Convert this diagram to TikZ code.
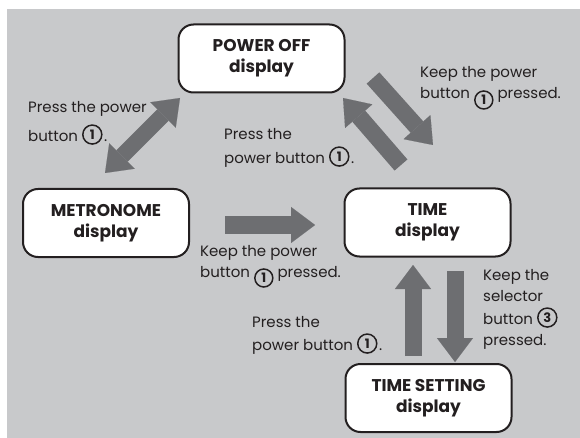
\documentclass[tikz,border=0pt]{standalone}
\usepackage{fontspec}
\setmainfont{Poppins}
\usetikzlibrary{arrows.meta}
\definecolor{bggray}{HTML}{C8C9CB}
\definecolor{argray}{HTML}{6D6E71}
\definecolor{txt}{HTML}{231F20}
\newcommand{\cnumhi}[1]{\tikz[baseline={([yshift=-2.5pt]c.base)}]\node[circle,draw=txt,line width=1.5pt,inner sep=0pt,minimum size=19pt,font=\fontsize{13}{13}\selectfont\bfseries,anchor=center](c){#1};}
\newcommand{\cnumlo}[1]{\tikz[baseline={([yshift=1pt]c.center)}]\node[circle,draw=txt,line width=1.5pt,inner sep=0pt,minimum size=18pt,font=\fontsize{13}{13}\selectfont\bfseries,anchor=center](c){#1};}
\begin{document}
\begin{tikzpicture}[x=1pt,y=-1pt,
  box/.style={draw=txt,line width=2pt,fill=white,rounded corners=15pt,minimum width=166pt,minimum height=68pt,align=center,font=\fontsize{17}{21}\selectfont\bfseries,text=txt,inner sep=0pt},
  lbl/.style={anchor=base west,inner sep=0pt,font=\fontsize{15}{21}\selectfont,text=txt},
  blk/.style={draw=argray,line width=17pt,-{Triangle[width=36pt,length=24pt,line width=0.1pt]}},
  dblk/.style={draw=argray,line width=16pt,{Triangle[width=36pt,length=24pt,line width=0.1pt]}-{Triangle[width=36pt,length=24pt,line width=0.1pt]}}]
\useasboundingbox (0,0) rectangle (580,438);
\fill[bggray] (7,9) rectangle (580,438);
\node[box] (poweroff) at (261.5,58.5) {POWER OFF\\display};
\node[box] (metro) at (106,223) {METRONOME\\display};
\node[box] (time) at (427.5,222.5) {TIME\\display};
\node[box] (tset) at (428.5,398) {TIME SETTING\\display};
\coordinate (d1) at (105,173); \coordinate (d2) at (180,98);
\coordinate (r1) at (225,225); \coordinate (r2) at (315,225);
\coordinate (a1) at (373,78);  \coordinate (a2) at (433,145);
\coordinate (b1) at (401,165); \coordinate (b2) at (343,98);
\coordinate (u1) at (413,356); \coordinate (u2) at (413,265);
\coordinate (v1) at (455,271); \coordinate (v2) at (455,362);
\draw[dblk] (d1) -- (d2);
\draw[blk] (r1) -- (r2);
\draw[blk] (a1) -- (a2);
\draw[blk] (b1) -- (b2);
\draw[blk] (u1) -- (u2);
\draw[blk] (v1) -- (v2);
\node[lbl] (l1) at (28,113) {\begin{tabular}[t]{@{}l@{}}Press the power\\[5pt] button \cnumhi{1}\kern1.5pt.\end{tabular}};
\node[lbl] (l2) at (224,140) {\begin{tabular}[t]{@{}l@{}}Press the\\ power button \cnumhi{1}\kern1.5pt.\end{tabular}};
\node[lbl] (l3) at (420,78) {\begin{tabular}[t]{@{}l@{}}Keep the power\\ button \cnumlo{1} pressed.\end{tabular}};
\node[lbl] (l4) at (200,256) {\begin{tabular}[t]{@{}l@{}}Keep the power\\ button \cnumlo{1} pressed.\end{tabular}};
\node[lbl] (l5) at (252,327) {\begin{tabular}[t]{@{}l@{}}Press the\\ power button \cnumhi{1}\kern1.5pt.\end{tabular}};
\node[lbl] (l6) at (483,280) {\begin{tabular}[t]{@{}l@{}}Keep the\\ selector\\ button \cnumhi{3}\\ pressed.\end{tabular}};
\end{tikzpicture}
\end{document}
